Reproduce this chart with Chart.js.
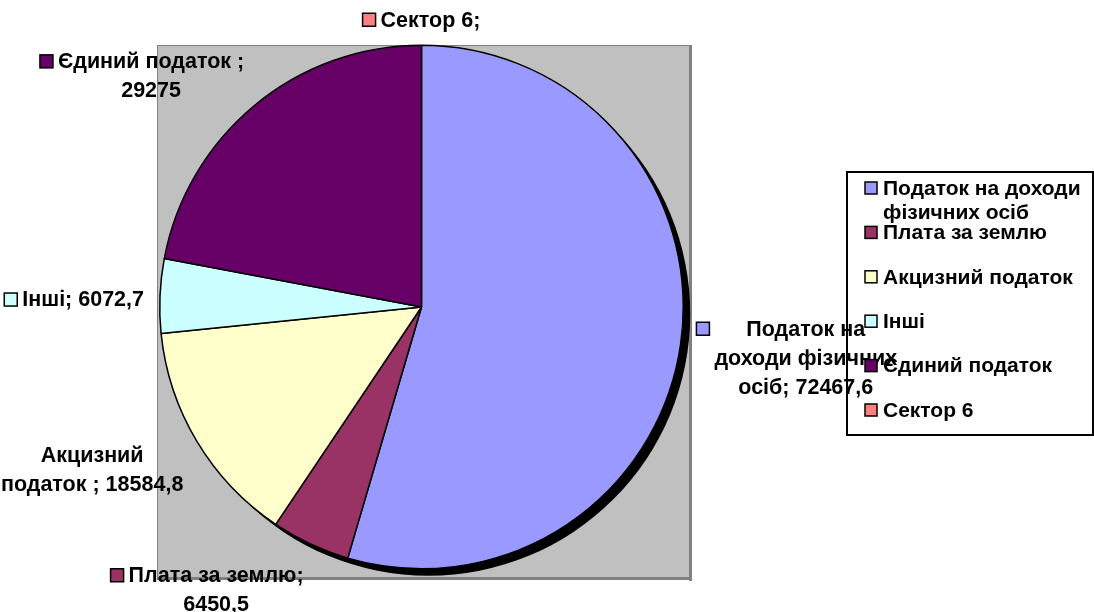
<!DOCTYPE html>
<html><head><meta charset="utf-8">
<script src="https://cdn.jsdelivr.net/npm/chart.js@4.4.1/dist/chart.umd.min.js"></script>
<style>html,body{margin:0;padding:0;background:#fff;}#wrap{width:1094px;height:612px;position:relative;}</style>
</head><body><div id="wrap"><canvas id="c"></canvas></div>
<script>
// ---- data ----
const categories = ["Податок на доходи фізичних осіб", "Плата за землю", "Акцизний податок ", "Інші", "Єдиний податок ", "Сектор 6"];
const values = [72467.6, 6450.5, 18584.8, 6072.7, 29275, null];
const colors = ["#9999FF", "#993366", "#FFFFCC", "#CCFFFF", "#660066", "#FF8080"];

const FONT_LABEL = 'bold 21.5px "Liberation Sans", Arial, sans-serif';
const FONT_LEGEND = 'bold 21px "Liberation Sans", Arial, sans-serif';
function fmt(v) { return (v === null || v === undefined) ? "" : String(v).replace('.', ','); }
function wrap(ctx, text, maxW) {
  const raw = text.split(' ').filter(s => s.length);
  const toks = [];
  raw.forEach(t => { if (t === ';' && toks.length) toks[toks.length - 1] += ' ;'; else toks.push(t); });
  const lines = []; let cur = '';
  toks.forEach(t => {
    const test = cur ? cur + ' ' + t : t;
    if (cur && ctx.measureText(test).width > maxW) { lines.push(cur); cur = t; } else cur = test;
  });
  if (cur) lines.push(cur);
  return lines;
}
function key(ctx, x, y, s, col) {
  ctx.fillStyle = col; ctx.fillRect(x, y, s, s);
  ctx.lineWidth = 1.5; ctx.strokeStyle = '#000'; ctx.strokeRect(x, y, s, s);
}
const LEG = { x: 847, y: 172, w: 246, h: 263 };

const excelPlugin = {
  id: 'excel',
  beforeDraw(chart) {
    const ctx = chart.ctx;
    const a = chart.getDatasetMeta(0).data[0];
    const cx = a.x, cy = a.y, R = a.outerRadius;
    ctx.save();
    ctx.fillStyle = '#fff'; ctx.fillRect(0, 0, chart.width, chart.height);
    const L = Math.round(cx - R - 3), T = Math.round(cy - R), Rt = Math.round(cx + R + 7), B = Math.round(cy + R + 9);
    ctx.fillStyle = '#C0C0C0'; ctx.fillRect(L, T, Rt - L, B - T);
    ctx.strokeStyle = '#808080'; ctx.lineWidth = 1; ctx.strokeRect(L + 0.5, T + 0.5, Rt - L, B - T);
    ctx.fillStyle = '#808080';
    ctx.fillRect(Rt - 1, T, 3, B - T + 3);
    ctx.fillRect(L, B - 1, Rt - L + 2, 3);
    ctx.restore();
  },
  beforeDatasetsDraw(chart) {
    const ctx = chart.ctx;
    const a = chart.getDatasetMeta(0).data[0];
    ctx.save();
    ctx.fillStyle = '#000';
    ctx.beginPath(); ctx.arc(a.x + 7, a.y + 7, a.outerRadius, 0, Math.PI * 2); ctx.fill();
    ctx.restore();
  },
  afterDatasetsDraw(chart) {
    const ctx = chart.ctx;
    const meta = chart.getDatasetMeta(0);
    ctx.save();
    ctx.textBaseline = 'middle';
    // legend background
    ctx.fillStyle = '#fff'; ctx.fillRect(LEG.x, LEG.y, LEG.w, LEG.h);
    // data labels
    ctx.font = FONT_LABEL;
    meta.data.forEach((arc, i) => {
      const mid = (arc.startAngle + arc.endAngle) / 2;
      const dx = Math.cos(mid), dy = Math.sin(mid);
      const ax = arc.x + dx * (arc.outerRadius + 16), ay = arc.y + dy * (arc.outerRadius + 16);
      const text = categories[i] + '; ' + fmt(values[i]);
      const lines = wrap(ctx, text, 193);
      const lh = 29;
      const tw = Math.max(...lines.map(l => ctx.measureText(l).width));
      const kw = 13, kg = 5;
      const bw = kw + kg + tw, bh = lines.length * lh;
      const bx = dx > 0.3 ? ax : (dx < -0.3 ? ax - bw : ax - bw / 2);
      const by = ay - bh * (1 - dy) / 2 + 5;
      key(ctx, bx, by + lh / 2 - kw / 2, kw, colors[i]);
      ctx.fillStyle = '#000'; ctx.textAlign = 'center';
      const tcx = bx + kw + kg + tw / 2;
      lines.forEach((l, j) => ctx.fillText(l, tcx, by + lh * (j + 0.5) + 1));
    });
    // legend
    ctx.font = FONT_LEGEND;
    ctx.lineWidth = 2; ctx.strokeStyle = '#000'; ctx.strokeRect(LEG.x, LEG.y, LEG.w, LEG.h);
    ctx.textAlign = 'left';
    categories.forEach((c, i) => {
      const yc = 188 + i * 44.4;
      key(ctx, 865, yc - 6, 12, colors[i]);
      ctx.fillStyle = '#000';
      const lines = wrap(ctx, c.trim(), 208);
      lines.forEach((l, j) => ctx.fillText(l, 883, yc + j * 24 + 1));
    });
    ctx.restore();
  }
};

new Chart(document.getElementById('c'), {
  type: 'pie',
  data: {
    labels: categories,
    datasets: [{ data: values, backgroundColor: colors, borderColor: '#000', borderWidth: 1.5 }]
  },
  options: {
    responsive: true, maintainAspectRatio: false, animation: false, devicePixelRatio: 1,
    events: [],
    layout: { padding: { left: 159, right: 410, top: 44, bottom: 42 } },
    plugins: { legend: { display: false }, tooltip: { enabled: false } }
  },
  plugins: [excelPlugin]
});
</script></body></html>
